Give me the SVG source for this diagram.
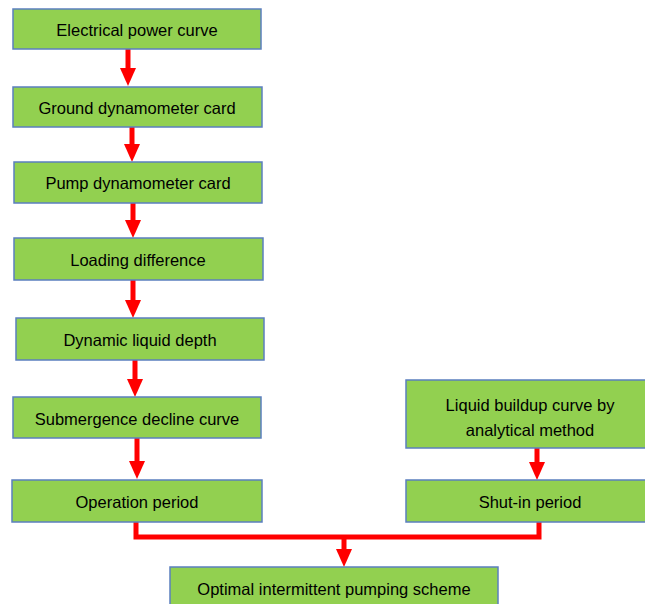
<svg xmlns="http://www.w3.org/2000/svg" width="645" height="604" viewBox="0 0 645 604">
<style>
.box{fill:#92D050;stroke:#5B7FBF;stroke-width:1.5}
.t{font-family:"Liberation Sans",Arial,sans-serif;font-size:16.5px;fill:#000;text-anchor:middle}
.c{fill:none;stroke:#FF0000;stroke-width:5}
</style>
<defs>
<marker id="ah" markerUnits="userSpaceOnUse" markerWidth="18" markerHeight="16" refX="0" refY="8" orient="auto" overflow="visible">
<path d="M0,0 L18,8 L0,16 z" fill="#FF0000"/>
</marker>
</defs>
<rect width="645" height="604" fill="#fff"/>
<g id="connectors">
<line class="c" x1="128" y1="49" x2="128" y2="68" marker-end="url(#ah)"/>
<line class="c" x1="132" y1="127" x2="132" y2="144" marker-end="url(#ah)"/>
<line class="c" x1="133" y1="203" x2="133" y2="220" marker-end="url(#ah)"/>
<line class="c" x1="133" y1="280" x2="133" y2="300" marker-end="url(#ah)"/>
<line class="c" x1="135" y1="360" x2="135" y2="379" marker-end="url(#ah)"/>
<line class="c" x1="137" y1="438" x2="137" y2="461" marker-end="url(#ah)"/>
<line class="c" x1="537" y1="448" x2="537" y2="462" marker-end="url(#ah)"/>
<polyline class="c" points="136,522 136,537 539,537 539,522"/>
<line class="c" x1="344" y1="537" x2="344" y2="549" marker-end="url(#ah)"/>
</g>
<g id="n1"><rect class="box" x="13" y="9" width="248" height="40"/><text class="t" x="137" y="36">Electrical power curve</text></g>
<g id="n2"><rect class="box" x="13" y="87" width="249" height="40"/><text class="t" x="137" y="114">Ground dynamometer card</text></g>
<g id="n3"><rect class="box" x="14" y="162" width="248" height="41"/><text class="t" x="138" y="189">Pump dynamometer card</text></g>
<g id="n4"><rect class="box" x="14" y="238" width="249" height="42"/><text class="t" x="138" y="266">Loading difference</text></g>
<g id="n5"><rect class="box" x="16" y="318" width="248" height="42"/><text class="t" x="140" y="346">Dynamic liquid depth</text></g>
<g id="n6"><rect class="box" x="13" y="397" width="248" height="41"/><text class="t" x="137" y="425">Submergence decline curve</text></g>
<g id="n7"><rect class="box" x="12" y="480" width="250" height="42"/><text class="t" x="137" y="508">Operation period</text></g>
<g id="n8"><rect class="box" x="406" y="380" width="248" height="68"/><text class="t" x="530" y="411">Liquid buildup curve by</text><text class="t" x="530" y="436">analytical method</text></g>
<g id="n9"><rect class="box" x="406" y="480" width="248" height="42"/><text class="t" x="530" y="508">Shut-in period</text></g>
<g id="n10"><rect class="box" x="170" y="567" width="328" height="45"/><text class="t" x="334" y="595">Optimal intermittent pumping scheme</text></g>
</svg>
